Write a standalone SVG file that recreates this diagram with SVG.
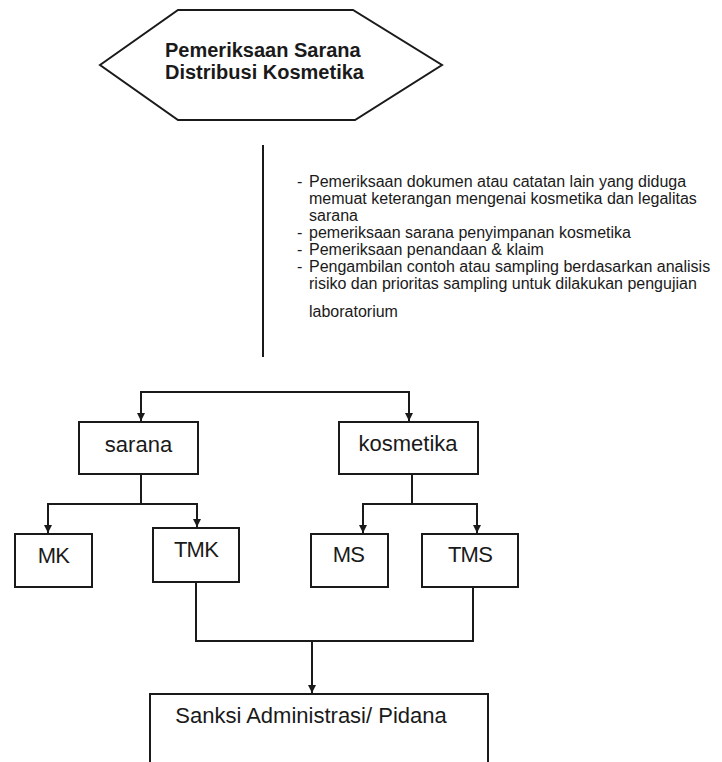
<svg xmlns="http://www.w3.org/2000/svg" width="722" height="762" viewBox="0 0 722 762">
<style>
.shape{fill:#fff;stroke:#1a1a1a;stroke-width:2}
.line{fill:none;stroke:#1a1a1a;stroke-width:2}
.lbl{font-family:"Liberation Sans",Arial,sans-serif;font-size:22px;fill:#1a1a1a;text-anchor:middle}
.code{letter-spacing:-0.8px}
.title{font-family:"Liberation Sans",Arial,sans-serif;font-size:20px;font-weight:bold;fill:#1a1a1a}
.note{font-family:"Liberation Sans",Arial,sans-serif;font-size:16px;fill:#1a1a1a}
</style>
<defs>
<marker id="arr" viewBox="0 0 8 8" refX="8" refY="4" markerWidth="4" markerHeight="4" orient="auto" markerUnits="strokeWidth">
<path d="M0,0 L8,4 L0,8 z" fill="#1a1a1a"/>
</marker>
</defs>
<rect width="722" height="762" fill="#fff"/>

<g id="node-start">
<polygon class="shape" points="100,65 178,10 353,10 442,65 355,120 178,120"/>
<text class="title" x="165" y="57">Pemeriksaan Sarana</text>
<text class="title" x="165" y="79">Distribusi Kosmetika</text>
</g>

<g id="note">
<text class="note" x="297" y="187">-</text>
<text class="note" x="309" y="187">Pemeriksaan dokumen atau catatan lain yang diduga</text>
<text class="note" x="309" y="204">memuat keterangan mengenai kosmetika dan legalitas</text>
<text class="note" x="309" y="221">sarana</text>
<text class="note" x="297" y="238">-</text>
<text class="note" x="309" y="238">pemeriksaan sarana penyimpanan kosmetika</text>
<text class="note" x="297" y="255">-</text>
<text class="note" x="309" y="255">Pemeriksaan penandaan &amp; klaim</text>
<text class="note" x="297" y="272">-</text>
<text class="note" x="309" y="272">Pengambilan contoh atau sampling berdasarkan analisis</text>
<text class="note" x="309" y="289">risiko dan prioritas sampling untuk dilakukan pengujian</text>
<text class="note" x="309" y="317">laboratorium</text>
</g>

<g id="node-sarana">
<rect class="shape" x="79" y="422" width="119" height="52"/>
<text class="lbl" x="138.5" y="452">sarana</text>
</g>
<g id="node-kosmetika">
<rect class="shape" x="339" y="422" width="139" height="52"/>
<text class="lbl" x="408" y="451">kosmetika</text>
</g>
<g id="node-MK">
<rect class="shape" x="15" y="534" width="77" height="53"/>
<text class="lbl code" x="53.5" y="563">MK</text>
</g>
<g id="node-TMK">
<rect class="shape" x="153" y="528" width="86" height="54"/>
<text class="lbl code" x="196" y="557">TMK</text>
</g>
<g id="node-MS">
<rect class="shape" x="311" y="534" width="77" height="53"/>
<text class="lbl code" x="348.5" y="562">MS</text>
</g>
<g id="node-TMS">
<rect class="shape" x="422" y="534" width="96" height="53"/>
<text class="lbl code" x="470" y="562">TMS</text>
</g>
<g id="node-sanksi">
<rect class="shape" x="150" y="694" width="338" height="80"/>
<text class="lbl" x="311" y="723">Sanksi Administrasi/ Pidana</text>
</g>

<g id="connectors">
<line class="line" x1="263" y1="145" x2="263" y2="357"/>
<line class="line" x1="141" y1="392" x2="409" y2="392"/>
<line class="line" x1="141" y1="391" x2="141" y2="421" marker-end="url(#arr)"/>
<line class="line" x1="409" y1="391" x2="409" y2="421" marker-end="url(#arr)"/>
<line class="line" x1="141" y1="474" x2="141" y2="504"/>
<line class="line" x1="48" y1="504" x2="197" y2="504"/>
<line class="line" x1="48" y1="503" x2="48" y2="533" marker-end="url(#arr)"/>
<line class="line" x1="197" y1="503" x2="197" y2="527" marker-end="url(#arr)"/>
<line class="line" x1="412" y1="474" x2="412" y2="504"/>
<line class="line" x1="363" y1="504" x2="477" y2="504"/>
<line class="line" x1="363" y1="503" x2="363" y2="533" marker-end="url(#arr)"/>
<line class="line" x1="477" y1="503" x2="477" y2="533" marker-end="url(#arr)"/>
<polyline class="line" points="196,582 196,641 473,641 473,587"/>
<line class="line" x1="312" y1="641" x2="312" y2="693" marker-end="url(#arr)"/>
</g>
</svg>
